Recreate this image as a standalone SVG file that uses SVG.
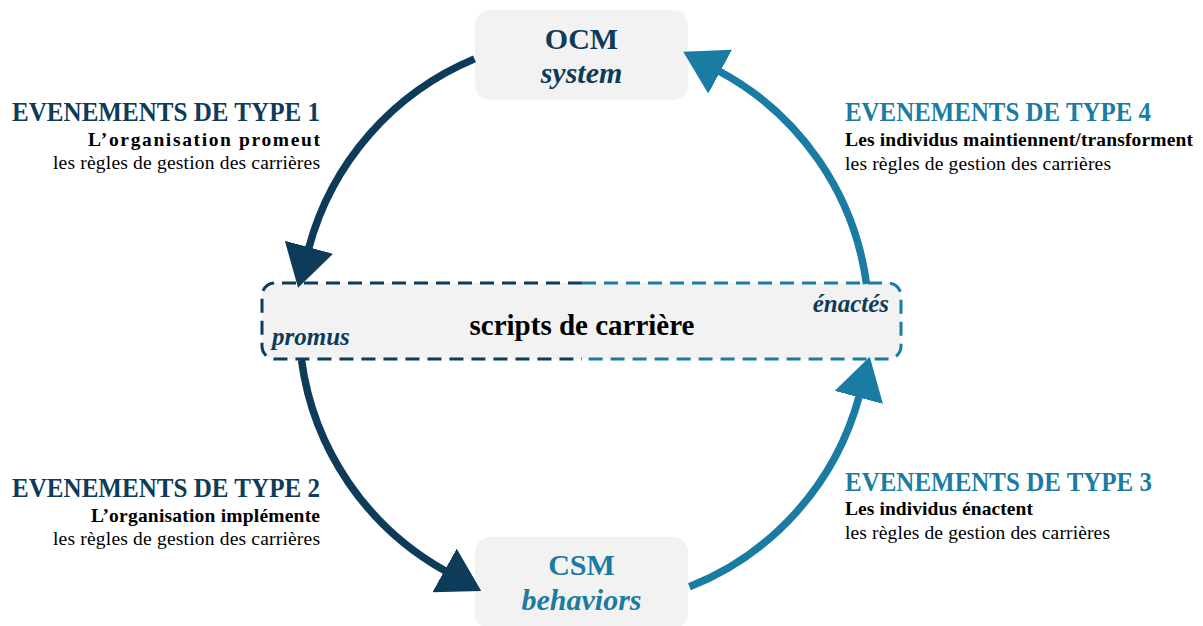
<svg xmlns="http://www.w3.org/2000/svg" width="1203" height="626" viewBox="0 0 1203 626">
<style>
  text { font-family: "Liberation Serif", "Times New Roman", serif; }
  .box { fill: #f2f2f2; }
  .dark { fill: #0d3b59; }
  .light { fill: #1a7ba3; }
  .blk { fill: #000000; }
  .b { font-weight: bold; }
  .i { font-style: italic; }
  .title { font-size: 30px; font-weight: bold; text-anchor: middle; }
  .head { font-size: 27px; font-weight: bold; }
  .sub { font-size: 19.5px; }
  .arc { fill: none; stroke-width: 7.5; }
  .dk { stroke: #0d3b59; }
  .lt { stroke: #1a7ba3; }
  .dash { fill: none; stroke-width: 3; stroke-dasharray: 14 8; }
</style>
<defs>
  <marker id="headDark" markerUnits="userSpaceOnUse" viewBox="0 0 42 50" markerWidth="42" markerHeight="50" refX="1" refY="25" orient="auto">
    <path d="M0,0 L42,25 L0,50 Z" fill="#0d3b59"/>
  </marker>
  <marker id="headLight" markerUnits="userSpaceOnUse" viewBox="0 0 42 50" markerWidth="42" markerHeight="50" refX="1" refY="25" orient="auto">
    <path d="M0,0 L42,25 L0,50 Z" fill="#1a7ba3"/>
  </marker>
</defs>
<rect width="1203" height="626" fill="#ffffff"/>

<g id="node-ocm">
  <rect class="box" x="475" y="10" width="213" height="90" rx="15"/>
  <text class="title dark" x="581.5" y="49">OCM</text>
  <text class="title dark i" x="581.5" y="83">system</text>
</g>

<g id="node-csm">
  <rect class="box" x="475" y="537" width="213" height="92" rx="15"/>
  <text class="title light" x="581.5" y="575">CSM</text>
  <text class="title light i" x="581.5" y="610">behaviors</text>
</g>

<g id="node-scripts">
  <rect class="box" x="262" y="283" width="639" height="76" rx="13"/>
  <path class="dash dk" d="M582,283 H275 A13,13 0 0 0 262,296 V346 A13,13 0 0 0 275,359 H582"/>
  <path class="dash lt" d="M582,283 H888 A13,13 0 0 1 901,296 V346 A13,13 0 0 1 888,359 H582"/>
  <text class="blk b" x="582" y="335" font-size="29" text-anchor="middle">scripts de carrière</text>
  <text class="dark b i" x="272" y="345" font-size="25">promus</text>
  <text class="dark b i" x="889" y="312" font-size="25" text-anchor="end">énactés</text>
</g>

<g id="label-type1" text-anchor="end">
  <text class="head dark" x="320" y="121" textLength="308" lengthAdjust="spacingAndGlyphs">EVENEMENTS DE TYPE 1</text>
  <text class="sub blk b" x="320" y="146" textLength="232" lengthAdjust="spacing">L’organisation promeut</text>
  <text class="sub blk" x="320" y="169" textLength="267" lengthAdjust="spacing">les règles de gestion des carrières</text>
</g>

<g id="label-type2" text-anchor="end">
  <text class="head dark" x="320" y="497" textLength="308" lengthAdjust="spacingAndGlyphs">EVENEMENTS DE TYPE 2</text>
  <text class="sub blk b" x="320" y="522" textLength="229" lengthAdjust="spacing">L’organisation implémente</text>
  <text class="sub blk" x="320" y="545" textLength="267" lengthAdjust="spacing">les règles de gestion des carrières</text>
</g>

<g id="label-type3">
  <text class="head light" x="845" y="491" textLength="307" lengthAdjust="spacingAndGlyphs">EVENEMENTS DE TYPE 3</text>
  <text class="sub blk b" x="845" y="515" textLength="188" lengthAdjust="spacing">Les individus énactent</text>
  <text class="sub blk" x="845" y="539" textLength="265" lengthAdjust="spacing">les règles de gestion des carrières</text>
</g>

<g id="label-type4">
  <text class="head light" x="845" y="121" textLength="306" lengthAdjust="spacingAndGlyphs">EVENEMENTS DE TYPE 4</text>
  <text class="sub blk b" x="845" y="146" textLength="348" lengthAdjust="spacing">Les individus maintiennent/transforment</text>
  <text class="sub blk" x="845" y="170" textLength="266" lengthAdjust="spacing">les règles de gestion des carrières</text>
</g>

<g id="connectors">
  <path id="edge-ocm-scripts" class="arc dk" d="M474.5,58.9 A285,285 0 0 0 308.7,248.2" marker-end="url(#headDark)"/>
  <path id="edge-scripts-csm" class="arc dk" d="M301.5,360 A285,285 0 0 0 445.4,571" marker-end="url(#headDark)"/>
  <path id="edge-csm-scripts" class="arc lt" d="M689.4,586.8 A285,285 0 0 0 859.1,396.4" marker-end="url(#headLight)"/>
  <path id="edge-scripts-ocm" class="arc lt" d="M866.5,284 A285,285 0 0 0 719.3,71.2" marker-end="url(#headLight)"/>
</g>
</svg>
